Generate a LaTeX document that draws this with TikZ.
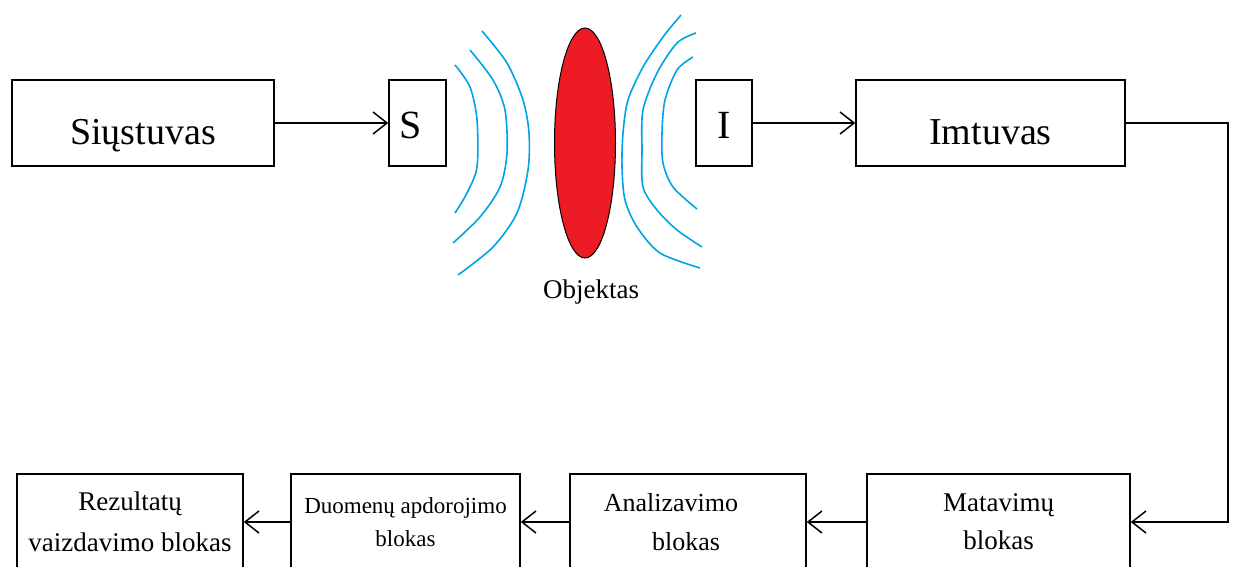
\documentclass[tikz,border=0pt]{standalone}
\usepackage{fontspec}
\setmainfont{Liberation Serif}
\usetikzlibrary{shapes, arrows.meta, positioning, calc}
\definecolor{wave}{RGB}{0,162,232}
\definecolor{objred}{RGB}{237,28,36}

\begin{document}
\begin{tikzpicture}[x=1pt, y=-1pt, >={Straight Barb[length=14pt,width=22pt]}]
		% Define styles
		\tikzstyle{block} = [draw, rectangle, line width=1.5pt, minimum height=86pt, inner sep=0pt, text height=42pt, text depth=0pt, align=center, font=\fontsize{38}{42}\selectfont]
		\tikzstyle{antenna} = [block, text height=30pt, font=\fontsize{40}{44}\selectfont]
		\tikzstyle{lowblock} = [draw, rectangle, line width=1.5pt, minimum height=96pt, inner sep=0pt, align=center, font=\fontsize{27}{40}\selectfont]
		\tikzstyle{line} = [draw, ->, line width=1.5pt]
		\tikzstyle{wavy} = [wave, line width=1.6pt]

		% Frame
		\clip (0,0) rectangle (1234,566);

		% Top row
		\node [block, minimum width=262pt] (siustuvas) at (143,123) {Siųstuvas};
		\node [antenna, minimum width=57pt] (S) at (417.5,123) {S\hspace*{14pt}};
		\node [antenna, minimum width=56pt] (I) at (724,123) {I};
		\node [block, minimum width=269pt] (imtuvas) at (990.5,123) {Imtuvas};

		% Object
		\node [draw, ellipse, fill=objred, line width=1pt, minimum width=61pt, minimum height=230pt, inner sep=0pt] (objektas) at (585,143) {};
		\node [font=\fontsize{27}{30}\selectfont] (objlabel) at (591,292) {Objektas};

		% Waves (left)
		\draw [wavy] plot[smooth] coordinates {(455,65) (470,87) (477,120) (477,167) (467,193) (455,213)};
		\draw [wavy] plot[smooth] coordinates {(470,50) (493,80) (505,110) (507,153) (500,187) (480,217) (453,243)};
		\draw [wavy] plot[smooth] coordinates {(482,31) (507,63) (523,100) (529,133) (528,170) (517,213) (493,247) (458,275)};

		% Waves (right)
		\draw [wavy] plot[smooth] coordinates {(693,57) (677,70) (665,100) (662,133) (663,163) (673,187) (697,209)};
		\draw [wavy] plot[smooth] coordinates {(696,33) (677,43) (657,73) (643,110) (642,150) (643,187) (657,210) (677,230) (702,247)};
		\draw [wavy] plot[smooth] coordinates {(681,15) (663,37) (643,67) (628,100) (623,133) (622,167) (625,200) (637,227) (660,253) (700,268)};

		% Bottom row
		\node [lowblock, minimum width=226pt, font=\fontsize{27}{41}\selectfont] (rezultatu) at (130,522) {Rezultatų\\vaizdavimo blokas};
		\node [lowblock, minimum width=229pt, font=\fontsize{23}{33}\selectfont] (duomenu) at (405.5,522) {Duomenų apdorojimo\\blokas};
		\node [lowblock, minimum width=236pt, font=\fontsize{26}{39}\selectfont] (analizavimo) at (688,522) {Analizavimo\hspace*{34pt}\\blokas\hspace*{4pt}};
		\node [lowblock, minimum width=263pt, font=\fontsize{27}{38}\selectfont] (matavimu) at (998.5,522) {Matavimų\\blokas};

		% Arrows
		\draw [line] (siustuvas.east) -- (S.west);
		\draw [line] (I.east) -- (imtuvas.west);
		\draw [line] (imtuvas.east) -- ++(102,0) |- (matavimu.east);
		\draw [line] (matavimu.west) -- (analizavimo.east);
		\draw [line] (analizavimo.west) -- (duomenu.east);
		\draw [line] (duomenu.west) -- (rezultatu.east);

	\end{tikzpicture}
\end{document}
